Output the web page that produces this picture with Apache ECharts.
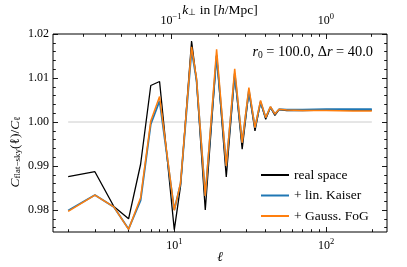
<!DOCTYPE html>
<html><head><meta charset="utf-8">
<script src="https://cdn.jsdelivr.net/npm/echarts@6/dist/echarts.min.js"></script>
<style>html,body{margin:0;padding:0;background:#fff}#c{width:407px;height:267px}</style>
</head><body><div id="c"></div>
<script>
// ---- data ----
const ell        = [2, 3, 4, 5, 6, 7, 8, 10, 11, 13, 14, 16, 19, 22, 25, 28, 31, 34, 37, 40, 43, 46, 49, 55, 70, 100, 150, 200];
const realSpace  = [0.9876, 0.9887, 0.9808, 0.9780, 0.9904, 1.0083, 1.0092, 0.9755, 0.9855, 1.0184, 1.0095, 0.9800, 1.0153, 0.9875, 1.0108, 0.9938, 1.0070, 0.9980, 1.0045, 1.0006, 1.0033, 1.0015, 1.0028, 1.0026, 1.0026, 1.0027, 1.0027, 1.0027];
const linKaiser  = [0.9799, 0.9834, 0.9807, 0.9757, 0.9822, 0.9995, 1.0048, 0.9800, 0.9860, 1.0163, 1.0096, 0.9832, 1.0150, 0.9900, 1.0110, 0.9953, 1.0072, 0.9987, 1.0046, 1.0010, 1.0034, 1.0018, 1.0029, 1.0028, 1.0028, 1.0029, 1.0029, 1.0029];
const gaussFoG   = [0.9797, 0.9834, 0.9807, 0.9756, 0.9828, 1.0002, 1.0058, 0.9799, 0.9862, 1.0171, 1.0100, 0.9832, 1.0165, 0.9900, 1.0121, 0.9953, 1.0078, 0.9987, 1.0049, 1.0010, 1.0035, 1.0018, 1.0029, 1.0027, 1.0026, 1.0026, 1.0025, 1.0025];
const refLineEll = [2, 200];
const refLineVal = [1.0, 1.0];
const seriesNames = ['real space', '+ lin. Kaiser', '+ Gauss. FoG'];
const xTickMajor = [10, 100];
const xTickMinor = [2, 3, 4, 5, 6, 7, 8, 9, 20, 30, 40, 50, 60, 70, 80, 90, 200];
const kTickMajor = [0.1, 1];
const kTickMinor = [0.02, 0.03, 0.04, 0.05, 0.06, 0.07, 0.08, 0.09, 0.2, 0.3, 0.4, 0.5, 0.6, 0.7, 0.8, 0.9, 2];
const yTickMajor = [0.98, 0.99, 1.00, 1.01, 1.02];
const yTickMinor = [0.976, 0.978, 0.982, 0.984, 0.986, 0.988, 0.992, 0.994, 0.996, 0.998, 1.002, 1.004, 1.006, 1.008, 1.012, 1.014, 1.016, 1.018];
const r0 = 100.0, dr = 40.0;
const ellRange = [1.589, 251.8];
const yRange = [0.975, 1.02];

// ---- helpers ----
const FONT = 'Liberation Serif';
const lg = v => Math.log10(v);
const kToEll = k => k * r0 - 0.5;
const ellToK = l => (l + 0.5) / r0;
const supRich = {
  b: {fontFamily: FONT, fontSize: 12, color: '#000'},
  s: {fontFamily: FONT, fontSize: 8.5, color: '#000', padding: [0, 0, 9, 0]}
};
const fmtPow = e => '{b|10}{s|' + (e < 0 ? '\u2212' + (-e) : e) + '}';

function xAxisDef(pos, ticks, len, labelVals, fmt) {
  return {
    type: 'value', position: pos, min: lg(ellRange[0]), max: lg(ellRange[1]),
    axisLine: {show: false}, splitLine: {show: false},
    axisTick: {show: true, inside: true, length: len, customValues: ticks,
               lineStyle: {color: '#000', width: 0.9}},
    axisLabel: labelVals ? {show: true, customValues: labelVals, formatter: fmt,
               margin: pos === 'top' ? 4 : 5, rich: supRich} : {show: false}
  };
}
function yAxisDef(pos, ticks, len, labels) {
  return {
    type: 'value', position: pos, min: yRange[0], max: yRange[1],
    axisLine: {show: false}, splitLine: {show: false},
    axisTick: {show: true, inside: true, length: len, customValues: ticks,
               lineStyle: {color: '#000', width: 0.9}},
    axisLabel: labels ? {show: true, customValues: ticks, margin: 4,
               formatter: v => v.toFixed(2), fontFamily: FONT, fontSize: 12, color: '#000'} : {show: false}
  };
}

const toPts = vals => ell.map((l, i) => [lg(l), vals[i]]);
const chart = echarts.init(document.getElementById('c'), null, {renderer: 'canvas'});
chart.setOption({
  animation: false,
  backgroundColor: '#fff',
  grid: {left: 53, right: 20, top: 34, bottom: 35, show: true, borderColor: '#000', borderWidth: 1, backgroundColor: 'transparent'},
  xAxis: [
    xAxisDef('bottom', xTickMajor.map(lg), 5, xTickMajor.map(lg), v => fmtPow(Math.round(v))),
    xAxisDef('bottom', xTickMinor.map(lg), 2.8, null),
    xAxisDef('top', kTickMajor.map(k => lg(kToEll(k))), 5, kTickMajor.map(k => lg(kToEll(k))),
             v => fmtPow(Math.round(lg(ellToK(Math.pow(10, v)))))),
    xAxisDef('top', kTickMinor.map(k => lg(kToEll(k))).filter(v => v > lg(ellRange[0])), 2.8, null)
  ],
  yAxis: [
    yAxisDef('left', yTickMajor, 5, true),
    yAxisDef('left', yTickMinor, 2.8, false),
    yAxisDef('right', yTickMajor, 5, false),
    yAxisDef('right', yTickMinor, 2.8, false)
  ],
  legend: {
    data: seriesNames, orient: 'vertical', left: 261, top: 168,
    icon: 'rect', itemWidth: 28, itemHeight: 2, itemGap: 6.5, padding: 0,
    textStyle: {fontFamily: FONT, fontSize: 13.5, color: '#000', lineHeight: 14}
  },
  series: [
    {type: 'line', name: 'ref', data: refLineEll.map((l, i) => [lg(l), refLineVal[i]]), symbol: 'none',
     lineStyle: {color: '#cccccc', width: 1}, z: 1, silent: true},
    {type: 'line', name: seriesNames[0], data: toPts(realSpace), symbol: 'none', color: '#000',
     lineStyle: {color: '#000', width: 1.3}, z: 2},
    {type: 'line', name: seriesNames[1], data: toPts(linKaiser), symbol: 'none', color: '#1f77b4',
     lineStyle: {color: '#1f77b4', width: 1.8}, z: 3},
    {type: 'line', name: seriesNames[2], data: toPts(gaussFoG), symbol: 'none', color: '#ff7f0e',
     lineStyle: {color: '#ff7f0e', width: 1.5}, z: 4}
  ],
  graphic: [
    {type: 'text', x: 220, y: 10, style: {
      text: '{i|k}{sub|\u22A5} in [{i|h}/Mpc]', align: 'center', verticalAlign: 'middle',
      rich: {i: {fontFamily: FONT, fontStyle: 'italic', fontSize: 13.5, color: '#000'},
             sub: {fontFamily: FONT, fontSize: 9, color: '#000', padding: [6, 0, 0, 0]}},
      fontFamily: FONT, fontSize: 13.5, fill: '#000'}},
    {type: 'text', x: 220, y: 257, style: {
      text: '\u2113', align: 'center', verticalAlign: 'middle',
      fontFamily: FONT, fontStyle: 'italic', fontSize: 13.5, fill: '#000'}},
    {type: 'text', x: 373, y: 52, style: {
      text: '{i|r}{sub|0} = ' + r0.toFixed(1) + ', \u0394{i|r} = ' + dr.toFixed(1), align: 'right', verticalAlign: 'middle',
      rich: {i: {fontFamily: FONT, fontStyle: 'italic', fontSize: 14.4, color: '#000'},
             sub: {fontFamily: FONT, fontSize: 9.5, color: '#000', padding: [6, 0, 0, 0]}},
      fontFamily: FONT, fontSize: 14.4, fill: '#000'}},
    {type: 'text', x: 15, y: 152, rotation: Math.PI / 2, style: {
      text: '{i|C}{sub|flat\u2212sky}(\u2113)/{i|C}{sub|\u2113}', align: 'center', verticalAlign: 'middle',
      rich: {i: {fontFamily: FONT, fontStyle: 'italic', fontSize: 13.5, color: '#000'},
             sub: {fontFamily: FONT, fontSize: 9, color: '#000', padding: [6, 0, 0, 0]}},
      fontFamily: FONT, fontSize: 13.5, fill: '#000'}}
  ]
});
</script></body></html>
